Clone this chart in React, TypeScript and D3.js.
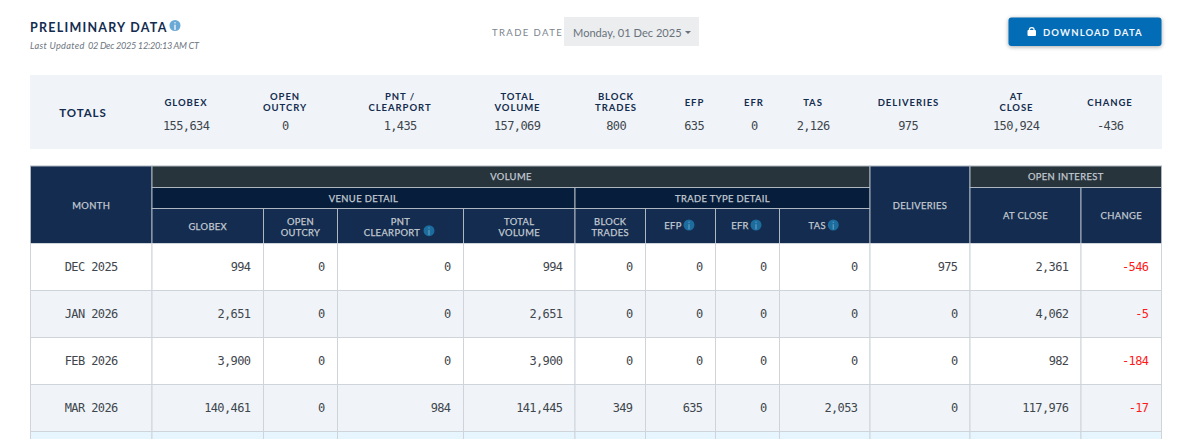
import React, { useEffect, useRef } from "react";
import * as d3 from "d3";

// values
const months = ["DEC 2025", "JAN 2026", "FEB 2026", "MAR 2026"];
const globex = [994, 2651, 3900, 140461];
const openOutcry = [0, 0, 0, 0];
const clearport = [0, 0, 0, 984];
const totalVolume = [994, 2651, 3900, 141445];
const blockTrades = [0, 0, 0, 349];
const efp = [0, 0, 0, 635];
const efr = [0, 0, 0, 0];
const tas = [0, 0, 0, 2053];
const deliveries = [975, 0, 0, 0];
const atClose = [2361, 4062, 982, 117976];
const oiChange = [-546, -5, -184, -17];

const totalLabels = [["GLOBEX"], ["OPEN", "OUTCRY"], ["PNT /", "CLEARPORT"], ["TOTAL", "VOLUME"], ["BLOCK", "TRADES"], ["EFP"], ["EFR"], ["TAS"], ["DELIVERIES"], ["AT", "CLOSE"], ["CHANGE"]];
const totalValues = [155634, 0, 1435, 157069, 800, 635, 0, 2126, 975, 150924, -436];

const columnLabels = [["GLOBEX"], ["OPEN", "OUTCRY"], ["PNT", "CLEARPORT"], ["TOTAL", "VOLUME"], ["BLOCK", "TRADES"], ["EFP"], ["EFR"], ["TAS"]];
const infoColumns = ["CLEARPORT", "EFP", "EFR", "TAS"];

// layout, not data
const edges = [30.5, 152, 263.5, 337.5, 463.5, 575, 645.5, 715.5, 779.5, 870, 970, 1081, 1161.5];
const totalCenters = [186, 285, 400, 517.5, 616, 694.5, 754, 813, 908.5, 1016.5, 1110];
const heading = "Lato, 'Noto Sans', sans-serif";
const mono = "'DejaVu Sans Mono', monospace";
const navy = "#132c4f";
const deepNavy = "#061d3b";
const slate = "#28343c";
const headText = "#c3cad2";
const grid = "#ced4da";

function App() {
  const svgRef = useRef<SVGSVGElement>(null);

  useEffect(() => {
    const svg = d3.select(svgRef.current);
    svg.selectAll("*").remove();
    const fmt = d3.format(",");
    const num = (v: number) => fmt(v).replace("−", "-");

    const text = (
      g: any, x: number, y: number, s: string, size: number, fill: string,
      opts: { anchor?: string; weight?: number; spacing?: number; family?: string; italic?: boolean } = {}
    ) =>
      g.append("text")
        .attr("x", x).attr("y", y)
        .attr("text-anchor", opts.anchor ?? "middle")
        .attr("font-family", opts.family ?? heading)
        .attr("font-size", size)
        .attr("font-weight", opts.weight ?? 400)
        .attr("font-style", opts.italic ? "italic" : "normal")
        .attr("letter-spacing", opts.spacing ?? 0)
        .attr("fill", fill)
        .text(s);

    const info = (g: any, cx: number, cy: number, r: number, fill: string, dot: string) => {
      g.append("circle").attr("cx", cx).attr("cy", cy).attr("r", r).attr("fill", fill);
      g.append("rect").attr("x", cx - 0.6).attr("y", cy - 0.8).attr("width", 1.2).attr("height", r * 0.95).attr("fill", dot);
      g.append("rect").attr("x", cx - 0.6).attr("y", cy - r * 0.6).attr("width", 1.2).attr("height", 1.2).attr("fill", dot);
    };

    const top = svg.append("g");
    text(top, 30, 31.5, "PRELIMINARY DATA", 12.5, "#132c4f", { anchor: "start", weight: 700, spacing: 1.25 });
    info(top, 175, 25.5, 5.5, "#6aa9d6", "#fff");
    text(top, 30, 49, "Last Updated", 9.2, "#6d7680", { anchor: "start", italic: true, spacing: 0.3 });
    text(top, 88, 49, "02 Dec 2025 12:20:13 AM CT", 9.2, "#6d7680", { anchor: "start", italic: true, spacing: -0.3 });
    text(top, 492, 36, "TRADE DATE", 9.5, "#7b848d", { anchor: "start", spacing: 1.4 });
    top.append("rect").attr("x", 564).attr("y", 17).attr("width", 135).attr("height", 29).attr("fill", "#ecedef");
    text(top, 573, 36.5, "Monday, 01 Dec 2025", 11.1, "#68727c", { anchor: "start" });
    top.append("path").attr("d", d3.line()([[685, 31], [691, 31], [688, 34]]) + "Z").attr("fill", "#68727c");

    top.append("rect").attr("x", 1008.5).attr("y", 17.5).attr("width", 153).attr("height", 28.5).attr("rx", 3)
      .attr("fill", "#026cb6").style("filter", "drop-shadow(0 1px 2px rgba(0,0,0,.35))");
    top.append("rect").attr("x", 1027.5).attr("y", 30).attr("width", 8.5).attr("height", 6).attr("rx", 1).attr("fill", "#fff");
    top.append("path").attr("d", d3.arc()({ innerRadius: 1.8, outerRadius: 3, startAngle: -Math.PI / 2, endAngle: Math.PI / 2 } as any)).attr("transform", "translate(1031.75,30)").attr("fill", "#fff");
    text(top, 1043, 36, "DOWNLOAD DATA", 9.5, "#f2f6fa", { anchor: "start", weight: 700, spacing: 1.15 });

    // totals band
    const tot = svg.append("g");
    tot.append("rect").attr("x", 30).attr("y", 75).attr("width", 1132).attr("height", 74).attr("fill", "#f0f4f8");
    text(tot, 83, 116.5, "TOTALS", 11.5, navy, { weight: 700, spacing: 0.9 });
    totalLabels.forEach((lines, i) => {
      const cx = totalCenters[i];
      const y0 = lines.length === 1 ? 105.5 : 100;
      lines.forEach((l, j) => text(tot, cx, y0 + j * 11, l, 9.5, navy, { weight: 700, spacing: 0.95 }));
      text(tot, Math.floor(cx) + 0.19, 130, num(totalValues[i]), 12, "#3f464d", { family: mono, spacing: -0.6 });
    });

    // table
    const t = svg.append("g");
    const x = d3.scaleOrdinal<number, number>().domain(d3.range(edges.length)).range(edges);
    const yRow = d3.scaleBand().domain([...months, "next"]).range([243.5, 478.5]);
    const rowH = yRow.bandwidth();
    const mid = (a: number, b: number) => (x(a) + x(b)) / 2;

    const cell = (a: number, b: number, y0: number, y1: number, fill: string) =>
      t.append("rect").attr("x", x(a)).attr("y", y0).attr("width", x(b) - x(a)).attr("height", y1 - y0)
        .attr("fill", fill).attr("stroke", "#aeb6bf").attr("stroke-width", 1);

    cell(0, 1, 166, 243.5, navy);
    cell(1, 9, 166, 187.5, slate);
    cell(1, 5, 187.5, 208.5, deepNavy);
    cell(5, 9, 187.5, 208.5, deepNavy);
    d3.range(1, 9).forEach(i => cell(i, i + 1, 208.5, 243.5, navy));
    cell(9, 10, 166, 243.5, navy);
    cell(10, 12, 166, 187.5, slate);
    cell(10, 11, 187.5, 243.5, navy);
    cell(11, 12, 187.5, 243.5, navy);

    const hd = (cx: number, y: number, s: string) =>
      text(t, cx, y, s, 9.4, headText, { spacing: 0.38 }).attr("stroke", headText).attr("stroke-width", 0.25);
    hd(mid(0, 1), 209, "MONTH");
    hd(mid(1, 9), 180, "VOLUME");
    hd(mid(1, 5), 201.5, "VENUE DETAIL");
    hd(mid(5, 9), 201.5, "TRADE TYPE DETAIL");
    hd(mid(9, 10), 209, "DELIVERIES");
    hd(mid(10, 12), 180, "OPEN INTEREST");
    hd(mid(10, 11), 219, "AT CLOSE");
    hd(mid(11, 12), 219, "CHANGE");
    columnLabels.forEach((lines, i) => {
      const cx = mid(i + 1, i + 2);
      const hasInfo = infoColumns.includes(lines[lines.length - 1]);
      if (lines.length === 1 && !hasInfo) hd(cx, 230, lines[0]);
      else if (lines.length === 1) {
        hd(cx - 7.5, 229, lines[0]);
        info(t, cx + 8.5, 225, 5.5, "#1d6c9e", "#5d9cc4");
      } else {
        hd(cx, 224.5, lines[0]);
        hd(hasInfo ? cx - 8.5 : cx, 236, lines[1]);
        if (hasInfo) info(t, cx + 28.5, 230.7, 5.5, "#1d6c9e", "#5d9cc4");
      }
    });

    const series = [globex, openOutcry, clearport, totalVolume, blockTrades, efp, efr, tas, deliveries, atClose, oiChange];
    const stripe = ["#ffffff", "#f0f4f8", "#ffffff", "#f0f4f8", "#e7f6fe"];
    yRow.domain().forEach((m, r) => {
      const y0 = yRow(m) as number;
      d3.range(12).forEach(c =>
        t.append("rect").attr("x", x(c)).attr("y", y0).attr("width", x(c + 1) - x(c)).attr("height", rowH)
          .attr("fill", stripe[r]).attr("stroke", grid).attr("stroke-width", 1));
      if (r >= months.length) return;
      const yText = y0 + rowH / 2 + 4;
      text(t, mid(0, 1), yText, m, 12, "#3f464d", { family: mono, spacing: -0.6 });
      series.forEach((vals, c) => {
        const v = vals[r];
        const fill = c === 10 && v < 0 ? "#ff1a1a" : "#3f464d";
        // keep the right edge on one pixel phase so the glyphs stay neutral
        text(t, Math.floor(x(c + 2)) - 12.5, yText, num(v), 12, fill, { anchor: "end", family: mono, spacing: -0.6 });
      });
    });
  }, []);

  return (
    <svg
      ref={svgRef}
      width={1200}
      height={439}
      style={{ position: "absolute", left: 0, top: 0, display: "block", background: "#fff" }}
    />
  );
}

export default App;
